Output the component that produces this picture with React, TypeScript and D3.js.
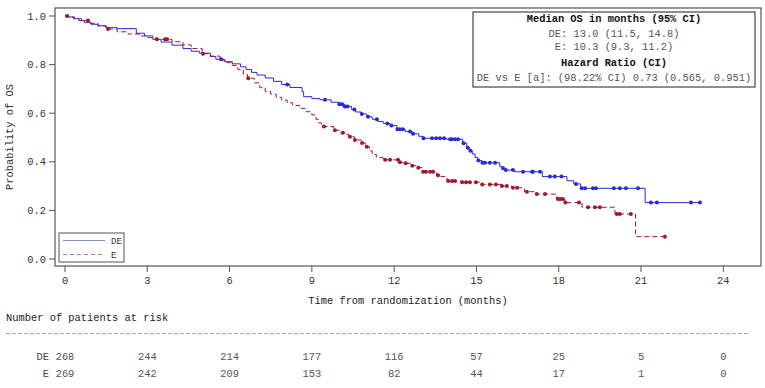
import React, { useEffect, useRef } from 'react';
import * as d3 from 'd3';

// step points of the KM curves: [time in months, survival after the step]
const deSteps: [number, number][] = [
  [0.15, 0.996], [0.35, 0.989], [0.5, 0.981], [0.7, 0.974], [0.95, 0.966], [1.2, 0.96],
  [1.5, 0.952], [1.9, 0.948], [2.6, 0.929], [2.9, 0.918], [3.2, 0.904], [3.5, 0.893],
  [3.9, 0.88], [4.3, 0.866], [4.6, 0.855], [4.9, 0.847], [5.3, 0.833], [5.5, 0.822],
  [5.8, 0.812], [6.1, 0.803], [6.4, 0.791], [6.6, 0.78], [6.8, 0.768], [7.0, 0.757],
  [7.3, 0.745], [7.6, 0.731], [7.9, 0.718], [8.2, 0.706], [8.64, 0.689], [8.7, 0.668],
  [9.0, 0.66], [9.3, 0.655], [9.7, 0.645], [10.0, 0.637], [10.2, 0.628], [10.45, 0.615],
  [10.6, 0.605], [10.8, 0.597], [11.0, 0.585], [11.2, 0.575], [11.4, 0.566], [11.6, 0.558],
  [11.85, 0.549], [12.1, 0.534], [12.4, 0.525], [12.65, 0.515], [12.9, 0.505], [13.05, 0.497],
  [13.9, 0.493], [14.5, 0.476], [14.65, 0.458], [14.75, 0.445], [14.85, 0.432], [14.95, 0.418],
  [15.05, 0.405], [15.2, 0.396], [15.85, 0.38], [15.95, 0.373], [16.05, 0.366], [16.4, 0.359],
  [17.4, 0.339], [18.3, 0.322], [18.55, 0.309], [18.8, 0.291], [21.15, 0.232],
];
const deCensors = [
  5.69, 8.1, 9.48, 10.0, 10.1, 10.2, 10.3, 10.55, 10.82, 11.05, 11.37, 11.75, 11.9, 12.12,
  12.21, 12.32, 12.58, 12.69, 13.07, 13.38, 13.53, 13.67, 13.82, 14.04, 14.11, 14.22, 14.33,
  14.53, 14.68, 14.78, 15.07, 15.22, 15.31, 15.49, 15.68, 15.97, 16.07, 16.33, 16.7, 17.03,
  17.06, 17.32, 17.68, 17.86, 18.1, 18.63, 18.84, 18.96, 19.25, 19.36, 20.01, 20.23, 20.45,
  20.89, 21.36, 21.58, 22.82, 23.15,
];

const eSteps: [number, number][] = [
  [0.1, 0.996], [0.3, 0.989], [0.6, 0.981], [0.9, 0.97], [1.2, 0.959], [1.5, 0.946],
  [1.9, 0.935], [2.3, 0.926], [2.7, 0.918], [3.0, 0.911], [3.3, 0.904], [3.9, 0.894],
  [4.3, 0.881], [4.6, 0.866], [5.0, 0.845], [5.3, 0.835], [5.65, 0.819], [5.9, 0.808],
  [6.1, 0.796], [6.3, 0.78], [6.5, 0.76], [6.65, 0.744], [6.9, 0.725], [7.1, 0.705],
  [7.3, 0.69], [7.5, 0.678], [7.7, 0.665], [7.9, 0.654], [8.1, 0.643], [8.3, 0.632],
  [8.55, 0.62], [8.8, 0.606], [9.0, 0.593], [9.15, 0.575], [9.25, 0.56], [9.35, 0.545],
  [9.8, 0.53], [10.0, 0.52], [10.2, 0.512], [10.35, 0.503], [10.55, 0.49], [10.8, 0.477],
  [10.95, 0.462], [11.1, 0.445], [11.2, 0.43], [11.35, 0.417], [11.6, 0.408], [12.2, 0.398],
  [12.38, 0.394], [12.63, 0.384], [12.85, 0.376], [13.03, 0.359], [13.55, 0.345], [13.7, 0.339],
  [13.93, 0.321], [14.45, 0.316], [15.18, 0.307], [15.9, 0.3], [16.3, 0.293], [16.75, 0.277],
  [17.18, 0.267], [17.93, 0.247], [18.22, 0.232], [18.85, 0.213], [20.05, 0.185], [20.8, 0.092],
];
const eCensors = [
  0.08, 0.84, 1.57, 3.35, 3.65, 3.72, 5.03, 6.68, 9.44, 9.84, 10.13, 10.39, 10.57, 10.83,
  11.0, 11.67, 11.85, 12.14, 12.21, 12.42, 12.66, 12.88, 13.06, 13.16, 13.31, 13.42, 13.6,
  13.97, 14.11, 14.22, 14.48, 14.62, 14.76, 14.98, 15.21, 15.49, 15.71, 15.93, 16.11, 16.33,
  16.48, 16.84, 17.2, 17.5, 17.97, 18.05, 18.15, 18.24, 18.74, 19.07, 19.32, 19.5, 20.12,
  20.23, 20.63, 21.87,
];

const xTicks = [0, 3, 6, 9, 12, 15, 18, 21, 24];
const yTicks = [0, 0.2, 0.4, 0.6, 0.8, 1.0];
const atRiskDE = [268, 244, 214, 177, 116, 57, 25, 5, 0];
const atRiskE = [269, 242, 209, 153, 82, 44, 17, 1, 0];

const infoLines = [
  { text: 'Median OS in months (95% CI)', bold: true },
  { text: 'DE: 13.0 (11.5, 14.8)', bold: false },
  { text: 'E: 10.3 (9.3, 11.2)', bold: false },
  { text: 'Hazard Ratio (CI)', bold: true },
  { text: 'DE vs E [a]: (98.22% CI) 0.73 (0.565, 0.951)', bold: false },
];

const FONT = '"Liberation Mono", "Courier New", monospace';
const BLUE = '#2a2ad6';
const RED = '#a3162c';

const survAt = (steps: [number, number][], t: number) => {
  let s = 1;
  for (const [st, sv] of steps) if (st <= t) s = sv;
  return s;
};

const App: React.FC = () => {
  const ref = useRef<SVGSVGElement>(null);

  useEffect(() => {
    const svg = d3.select(ref.current);
    svg.selectAll('*').remove();

    const frame = { left: 55, top: 8, right: 761, bottom: 266 };
    const x = d3.scaleLinear().domain([0, 24]).range([65, 723.3]);
    const y = d3.scaleLinear().domain([0, 1]).range([259, 16]);

    // frame
    svg.append('rect')
      .attr('x', frame.left).attr('y', frame.top)
      .attr('width', frame.right - frame.left).attr('height', frame.bottom - frame.top)
      .attr('fill', 'none').attr('stroke', '#555').attr('stroke-width', 1.2);

    // y axis
    yTicks.forEach(v => {
      svg.append('line')
        .attr('x1', frame.left - 6).attr('x2', frame.left)
        .attr('y1', y(v)).attr('y2', y(v))
        .attr('stroke', '#555');
      svg.append('text')
        .attr('x', frame.left - 9).attr('y', y(v) + 3.5)
        .attr('text-anchor', 'end')
        .attr('font-family', FONT).attr('font-size', 10.4).attr('fill', '#333')
        .text(v.toFixed(1));
    });
    svg.append('text')
      .attr('transform', `translate(13,${(frame.top + frame.bottom) / 2}) rotate(-90)`)
      .attr('text-anchor', 'middle')
      .attr('font-family', FONT).attr('font-size', 10.4).attr('fill', '#333')
      .text('Probability of OS');

    // x axis
    xTicks.forEach(v => {
      svg.append('line')
        .attr('x1', x(v)).attr('x2', x(v))
        .attr('y1', frame.bottom).attr('y2', frame.bottom + 6)
        .attr('stroke', '#555');
      svg.append('text')
        .attr('x', x(v)).attr('y', 284)
        .attr('text-anchor', 'middle')
        .attr('font-family', FONT).attr('font-size', 10.4).attr('fill', '#333')
        .text(v);
    });
    svg.append('text')
      .attr('x', 408).attr('y', 303.5)
      .attr('text-anchor', 'middle')
      .attr('font-family', FONT).attr('font-size', 10.4).attr('fill', '#222')
      .text('Time from randomization (months)');

    // KM curves
    const line = d3.line<[number, number]>()
      .x(d => x(d[0])).y(d => y(d[1]))
      .curve(d3.curveStepAfter);

    const series = [
      { steps: deSteps, censors: deCensors, color: BLUE, dash: null as string | null },
      { steps: eSteps, censors: eCensors, color: RED, dash: '5,3' },
    ];
    series.forEach(s => {
      const end = d3.max(s.censors) ?? 0;
      const pts: [number, number][] = [[0, 1], ...s.steps, [end, s.steps[s.steps.length - 1][1]]];
      svg.append('path')
        .attr('d', line(pts))
        .attr('fill', 'none')
        .attr('stroke', s.color)
        .attr('stroke-width', 1)
        .attr('stroke-dasharray', s.dash);
      svg.selectAll(null)
        .data(s.censors)
        .enter()
        .append('circle')
        .attr('cx', d => x(d))
        .attr('cy', d => y(survAt(s.steps, d)))
        .attr('r', 2)
        .attr('fill', s.color);
    });

    // legend
    svg.append('rect')
      .attr('x', 59).attr('y', 233).attr('width', 65).attr('height', 29)
      .attr('fill', 'white').attr('stroke', '#555').attr('stroke-width', 1);
    [
      { label: 'DE', color: '#8f8fd0', dash: null as string | null, yy: 240.5 },
      { label: 'E', color: '#c8708a', dash: '4,3', yy: 254.5 },
    ].forEach(l => {
      svg.append('line')
        .attr('x1', 63).attr('x2', 105).attr('y1', l.yy).attr('y2', l.yy)
        .attr('stroke', l.color).attr('stroke-dasharray', l.dash);
      svg.append('text')
        .attr('x', 111).attr('y', l.yy + 3)
        .attr('font-family', FONT).attr('font-size', 9).attr('fill', '#333')
        .text(l.label);
    });

    // info box
    svg.append('rect')
      .attr('x', 473).attr('y', 12).attr('width', 282).attr('height', 75)
      .attr('fill', 'white').attr('stroke', '#444').attr('stroke-width', 1.2);
    const lineY = [18.7, 33, 46.7, 62, 77];
    infoLines.forEach((l, i) => {
      svg.append('text')
        .attr('x', 614).attr('y', lineY[i] + 3.5)
        .attr('text-anchor', 'middle')
        .attr('font-family', FONT).attr('font-size', 10.4)
        .attr('font-weight', l.bold ? 'bold' : 'normal')
        .attr('fill', l.bold ? '#111' : '#555')
        .text(l.text);
    });

    // number at risk table
    svg.append('text')
      .attr('x', 6).attr('y', 320.5)
      .attr('font-family', FONT).attr('font-size', 10.4).attr('fill', '#222')
      .text('Number of patients at risk');
    svg.append('line')
      .attr('x1', 6).attr('x2', 748).attr('y1', 333.5).attr('y2', 333.5)
      .attr('stroke', '#aaa').attr('stroke-dasharray', '4,2');
    [
      { label: 'DE', values: atRiskDE, yy: 359.5 },
      { label: 'E', values: atRiskE, yy: 376.5 },
    ].forEach(r => {
      svg.append('text')
        .attr('x', 49).attr('y', r.yy)
        .attr('text-anchor', 'end')
        .attr('font-family', FONT).attr('font-size', 10.4).attr('fill', '#444')
        .text(r.label);
      r.values.forEach((v, i) => {
        svg.append('text')
          .attr('x', x(xTicks[i])).attr('y', r.yy)
          .attr('text-anchor', 'middle')
          .attr('font-family', FONT).attr('font-size', 10.4).attr('fill', '#555')
          .text(v);
      });
    });
  }, []);

  return (
    <svg
      ref={ref}
      width={765}
      height={388}
      style={{ position: 'absolute', left: 0, top: 0, background: 'white' }}
    />
  );
};

export default App;
